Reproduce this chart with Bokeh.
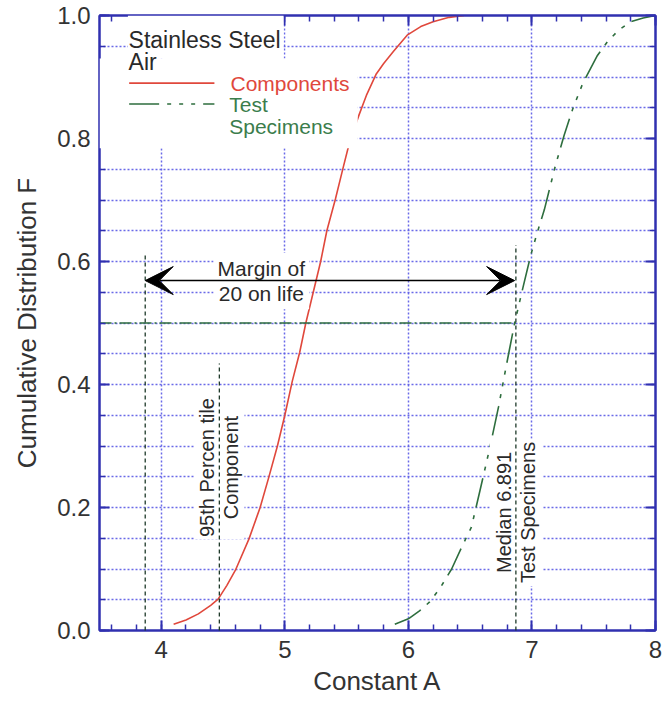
from bokeh.plotting import figure
from bokeh.models import (Range1d, LinearAxis, SingleIntervalTicker, BoxAnnotation,
                          Arrow, VeeHead, PrintfTickFormatter, CustomLabelingPolicy)
from bokeh.core.properties import value
from bokeh.embed import file_html
from bokeh.resources import INLINE

# ---------------- data ----------------
comp_x = [4.10, 4.20, 4.30, 4.40, 4.46, 4.53, 4.60, 4.71, 4.80, 4.87, 4.94, 5.00, 5.06,
          5.12, 5.17, 5.23, 5.29, 5.34, 5.41, 5.47, 5.51, 5.56, 5.60, 5.66, 5.74, 5.80,
          5.88, 5.99, 6.10, 6.20, 6.33, 6.45]
comp_F = [0.010, 0.017, 0.027, 0.041, 0.051, 0.073, 0.098, 0.149, 0.200, 0.249, 0.300, 0.350,
          0.405, 0.452, 0.500, 0.550, 0.600, 0.650, 0.702, 0.751, 0.783, 0.815, 0.838, 0.870,
          0.905, 0.922, 0.942, 0.968, 0.982, 0.990, 0.997, 1.000]

test_x = [5.89, 6.00, 6.09, 6.17, 6.26, 6.35, 6.43, 6.51, 6.58, 6.66, 6.73, 6.79, 6.86,
          6.93, 6.99, 7.04, 7.10, 7.19, 7.26, 7.33, 7.41, 7.53, 7.61, 7.70, 7.80, 7.90, 8.00]
test_F = [0.010, 0.019, 0.032, 0.046, 0.070, 0.100, 0.135, 0.168, 0.228, 0.298, 0.364, 0.428,
          0.500, 0.560, 0.610, 0.645, 0.684, 0.756, 0.805, 0.848, 0.889, 0.935, 0.957, 0.976,
          0.990, 0.996, 1.000]

p95_component = 4.47      # 95th percentile of components
median_test = 6.87        # median of test specimens (labelled 6.891)
margin_left = 3.87        # median less a margin of 20 on life
median_F = 0.5

x_label = "Constant A"
y_label = "Cumulative Distribution F"

# ---------------- styling ----------------
FONT = "Liberation Sans"
BLUE = "#3030b0"
GRID = "#5a5ae6"
RED = "#e0483c"
GREEN = "#2e6e3e"
GREEN_TXT = "#3b7d4c"
TXT = "#2a2a2a"
DASHDOT_CURVE = "30 8 4 8 4 8 4 8"

p = figure(width=666, height=706, x_range=Range1d(3.5, 8.0), y_range=Range1d(0.0, 1.0),
           output_backend="svg", toolbar_location=None,
           min_border_left=99, min_border_right=11, min_border_top=15, min_border_bottom=76,
           x_axis_label=x_label, y_axis_label=y_label)
p.background_fill_color = "white"
p.border_fill_color = "white"
p.outline_line_color = BLUE
p.outline_line_width = 2

p.xaxis.ticker = SingleIntervalTicker(interval=1, num_minor_ticks=5)
p.yaxis.ticker = SingleIntervalTicker(interval=0.2, num_minor_ticks=4)
p.yaxis.formatter = PrintfTickFormatter(format="%.1f")

for ax in (p.xaxis[0], p.yaxis[0]):
    ax.axis_line_color = BLUE
    ax.axis_line_width = 2
    ax.major_tick_line_color = BLUE
    ax.minor_tick_line_color = BLUE
    ax.major_tick_line_width = 2
    ax.minor_tick_line_width = 1.5
    ax.major_tick_in = 10
    ax.major_tick_out = 0
    ax.minor_tick_in = 6
    ax.minor_tick_out = 0
    ax.major_label_text_font = FONT
    ax.major_label_text_font_size = "24px"
    ax.major_label_text_color = "#333333"
    ax.axis_label_text_font = FONT
    ax.axis_label_text_font_size = "26px"
    ax.axis_label_text_font_style = "normal"
    ax.axis_label_text_color = "#333333"

p.xaxis.major_label_standoff = 10
p.xaxis.axis_label_standoff = 5
p.yaxis.major_label_standoff = 9
p.yaxis.axis_label_standoff = 12

for loc, tk in (("above", SingleIntervalTicker(interval=1, num_minor_ticks=5)),
                ("right", SingleIntervalTicker(interval=0.2, num_minor_ticks=4))):
    ax = LinearAxis(ticker=tk, axis_line_color=BLUE, axis_line_width=2,
                    major_tick_line_color=BLUE, minor_tick_line_color=BLUE,
                    major_tick_line_width=2, minor_tick_line_width=1.5,
                    major_tick_in=10, major_tick_out=0, minor_tick_in=6, minor_tick_out=0,
                    major_label_policy=CustomLabelingPolicy(code="return []"),
                    major_label_text_font_size="0px", major_label_standoff=0)
    p.add_layout(ax, loc)

p.xgrid.ticker = SingleIntervalTicker(interval=1)
p.ygrid.ticker = SingleIntervalTicker(interval=0.05)
for g in (p.xgrid[0], p.ygrid[0]):
    g.grid_line_color = GRID
    g.grid_line_width = 1.5
    g.grid_line_dash = "2 2"
    g.grid_line_alpha = 0.9

# ---------------- curves ----------------
p.line(comp_x, comp_F, line_color=RED, line_width=1.6)
p.line(test_x, test_F, line_color=GREEN, line_width=1.6, line_dash=DASHDOT_CURVE)

# median horizontal dash-dot
p.segment(x0=[3.5], y0=[median_F], x1=[median_test], y1=[median_F],
          line_color=GREEN, line_width=1.5, line_dash="12 3 2 3")

# ---------------- legend (white boxes + texts) ----------------
p.add_layout(BoxAnnotation(left=3.73, right=4.99, bottom=0.93, top=1.0,
                           fill_color="white", fill_alpha=1, line_alpha=0))
p.add_layout(BoxAnnotation(left=3.5, right=5.59, bottom=0.784, top=0.93,
                           fill_color="white", fill_alpha=1, line_alpha=0))

p.text(x=[3.735, 3.735], y=[0.960, 0.924], text=["Stainless Steel", "Air"],
       text_font=value(FONT), text_font_size="23px", text_color=TXT,
       text_align="left", text_baseline="middle", level="overlay")
p.segment(x0=[3.74], y0=[0.890], x1=[4.43], y1=[0.890], line_color=RED, line_width=1.6,
          level="overlay")
p.segment(x0=[3.74], y0=[0.856], x1=[4.43], y1=[0.856], line_color=GREEN, line_width=1.6,
          line_dash=DASHDOT_CURVE, level="overlay")
p.text(x=[4.56], y=[0.889], text=["Components"], text_font=value(FONT),
       text_font_size="21px", text_color=RED, text_align="left", text_baseline="middle",
       level="overlay")
p.text(x=[4.55, 4.55], y=[0.856, 0.820], text=["Test", "Specimens"], text_font=value(FONT),
       text_font_size="21px", text_color=GREEN_TXT, text_align="left",
       text_baseline="middle", level="overlay")

# ---------------- annotations ----------------
p.text(x=[4.81], y=[0.568], text=["Margin of\n20 on life"], text_font=value(FONT),
       text_font_size="21px", text_color=TXT, text_align="center", text_baseline="middle",
       text_line_height=1.1, background_fill_color="white", padding=4, level="annotation")
p.text(x=[p95_component], y=[0.265], text=["95th Percen tile\nComponent"],
       text_font=value(FONT), text_font_size="20px", text_color=TXT, angle=1.5708,
       text_align="center", text_baseline="middle", text_line_height=1.1,
       background_fill_color="white", padding=2, level="annotation")
p.text(x=[median_test], y=[0.192], text=["Median 6.891\nTest Specimens"],
       text_font=value(FONT), text_font_size="20px", text_color=TXT, angle=1.5708,
       text_align="center", text_baseline="middle", text_line_height=1.1,
       background_fill_color="white", padding=3, level="annotation")

p.segment(x0=[margin_left, p95_component, median_test], y0=[0, 0, 0],
          x1=[margin_left, p95_component, median_test], y1=[0.61, 0.434, 0.627],
          line_color="#1f3a2a", line_width=1.3, line_dash="4 3", level="overlay")

arrow = Arrow(start=VeeHead(size=28, fill_color="black", line_color="black"),
              end=VeeHead(size=28, fill_color="black", line_color="black"),
              x_start=margin_left, y_start=0.569, x_end=median_test - 0.01, y_end=0.569,
              line_color="black", line_width=1.6, level="overlay")
p.add_layout(arrow)

open("out.html", "w").write(file_html(p, INLINE))
